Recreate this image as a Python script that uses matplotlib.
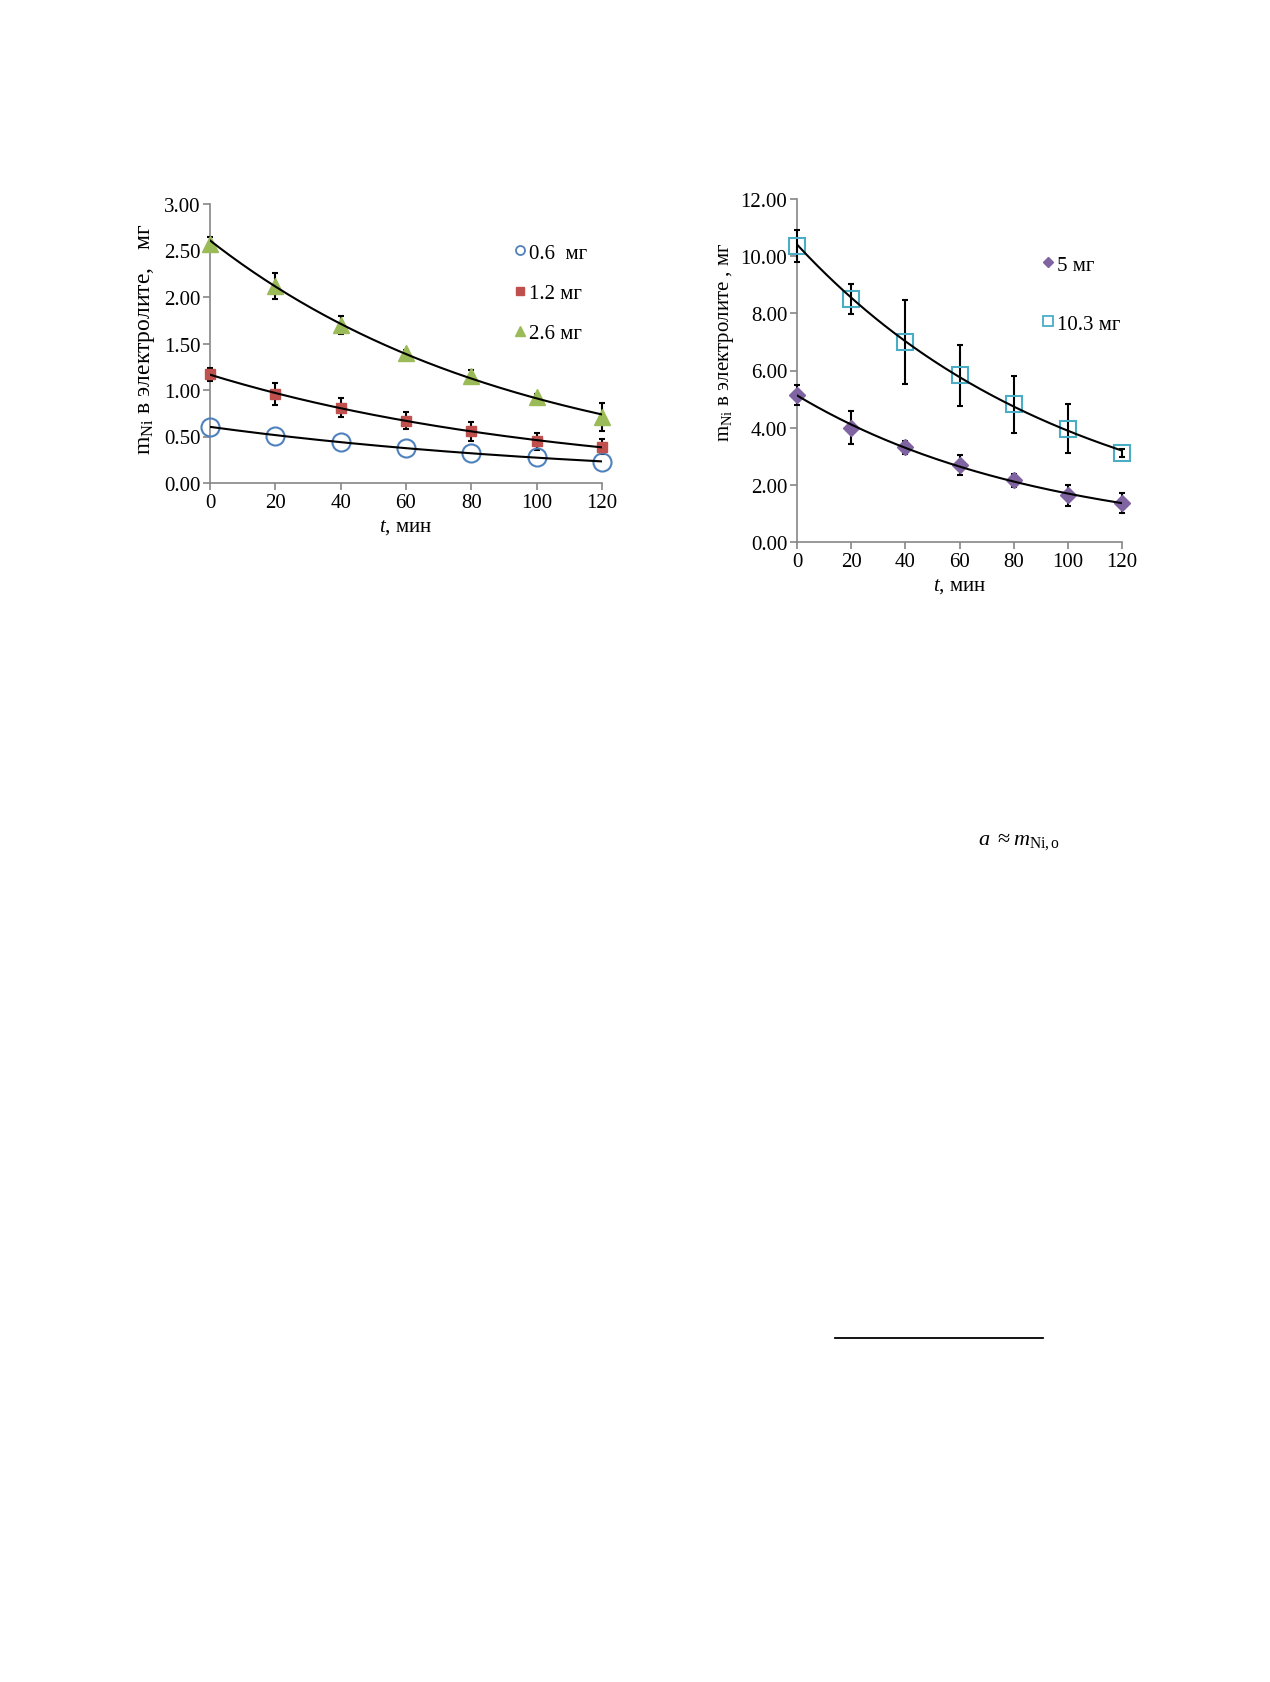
import numpy as np
import matplotlib
matplotlib.use("Agg")
import matplotlib.pyplot as plt
from matplotlib.lines import Line2D

plt.rcParams['font.family'] = ['Liberation Serif', 'DejaVu Serif']
plt.rcParams['mathtext.fontset'] = 'custom'
plt.rcParams['mathtext.rm'] = 'Liberation Serif'
plt.rcParams['mathtext.it'] = 'Liberation Serif:italic'

# ---- data (left chart) ----
t = [0, 20, 40, 60, 80, 100, 120]
m06 = [0.60, 0.51, 0.44, 0.38, 0.32, 0.28, 0.225]
m12 = [1.17, 0.96, 0.81, 0.67, 0.555, 0.45, 0.39]
m12_err = [0.07, 0.12, 0.10, 0.09, 0.10, 0.09, 0.08]
m26 = [2.57, 2.12, 1.70, 1.40, 1.15, 0.93, 0.71]
m26_err = [0.08, 0.14, 0.10, 0.03, 0.07, 0.03, 0.15]

# ---- data (right chart) ----
m5 = [5.15, 4.00, 3.32, 2.71, 2.16, 1.63, 1.37]
m5_err = [0.35, 0.57, 0.23, 0.35, 0.23, 0.38, 0.35]
m103 = [10.35, 8.50, 6.99, 5.83, 4.82, 3.96, 3.11]
m103_err = [0.57, 0.54, 1.46, 1.06, 0.99, 0.86, 0.15]

left_labels = ['0.6  мг', '1.2 мг', '2.6 мг']
right_labels = ['5 мг', '10.3 мг']

C_BLUE = '#4F81BD'
C_RED = '#C0504D'
C_GREEN = '#9BBB59'
C_PURPLE = '#8064A2'
C_TEAL = '#4BACC6'
SPINE = '#868686'

W, H = 1270, 1683
fig = plt.figure(figsize=(W / 100, H / 100), dpi=100)


def axpos(x0, y0, x1, y1):
    return [x0 / W, 1 - y1 / H, (x1 - x0) / W, (y1 - y0) / H]


def trend(ax, x, y):
    x = np.asarray(x, float)
    y = np.asarray(y, float)
    b, a = np.polyfit(x, np.log(y), 1)
    xx = np.linspace(x.min(), x.max(), 200)
    ax.plot(xx, np.exp(a) * np.exp(b * xx), color='black', lw=1.5, zorder=7)


FS = 15


def style(ax, ymax, ystep):
    ax.set_xlim(0, 120)
    ax.set_ylim(0, ymax)
    ax.set_xticks(t)
    ax.set_yticks(np.arange(0, ymax + 1e-9, ystep))
    ax.yaxis.set_major_formatter(matplotlib.ticker.FormatStrFormatter('%.2f'))
    for s in ['top', 'right']:
        ax.spines[s].set_visible(False)
    for s in ['left', 'bottom']:
        ax.spines[s].set_color(SPINE)
        ax.spines[s].set_linewidth(1.2)
    ax.tick_params(direction='out', length=5, width=1.2, color=SPINE,
                   labelsize=FS, pad=2)


EB = dict(fmt='none', ecolor='black', elinewidth=1.5, capsize=2.5,
          capthick=1.5, zorder=3, clip_on=False)

# ---------------- left ----------------
ax1 = fig.add_axes(axpos(210, 205, 602, 484))
style(ax1, 3.0, 0.5)
trend(ax1, t, m06)
trend(ax1, t, m12)
trend(ax1, t, m26)
ax1.errorbar(t, m26, yerr=m26_err, **EB)
ax1.errorbar(t, m12, yerr=m12_err, **EB)
ax1.plot(t, m06, 'o', ms=13, mfc='none', mec=C_BLUE, mew=1.5,
         linestyle='none', zorder=5, clip_on=False)
ax1.plot(t, m12, 's', ms=7.5, color=C_RED, linestyle='none', zorder=5,
         clip_on=False)
ax1.plot(t, m26, '^', ms=12, color=C_GREEN, linestyle='none', zorder=5,
         clip_on=False)
ax1.set_xlabel('$\\mathit{t}$, мин', fontsize=FS, labelpad=4)
ax1.set_ylabel('m$_{\\mathrm{Ni}}$ в электролите,   мг', fontsize=17, labelpad=5)
ax1.yaxis.label.set_y(0.52)
hl1 = [Line2D([], [], marker='o', ms=6.5, mfc='none', mec=C_BLUE, mew=1.3, ls='none'),
       Line2D([], [], marker='s', ms=5.5, color=C_RED, ls='none'),
       Line2D([], [], marker='^', ms=7, color=C_GREEN, ls='none')]
fig.legend(hl1, left_labels, loc='upper left',
           bbox_to_anchor=(514 / W, 1 - 244 / H), frameon=False, fontsize=FS,
           handlelength=0.6, handletextpad=0.1, labelspacing=1.0,
           borderpad=0, borderaxespad=0)

# ---------------- right ----------------
ax2 = fig.add_axes(axpos(797, 200, 1122, 543))
style(ax2, 12.0, 2.0)
trend(ax2, t, m5)
trend(ax2, t, m103)
ax2.errorbar(t, m103, yerr=m103_err, **EB)
ax2.errorbar(t, m5, yerr=m5_err, **EB)
ax2.plot(t, m5, 'D', ms=8.5, color=C_PURPLE, linestyle='none', zorder=5,
         clip_on=False)
ax2.plot(t, m103, 's', ms=12, mfc='none', mec=C_TEAL, mew=1.5,
         linestyle='none', zorder=5, clip_on=False)
ax2.set_xlabel('$\\mathit{t}$, мин', fontsize=FS, labelpad=4)
ax2.set_ylabel('m$_{\\mathrm{Ni}}$ в электролите , мг', fontsize=FS, labelpad=3)
ax2.yaxis.label.set_y(0.585)
hl2 = [Line2D([], [], marker='D', ms=5.5, color=C_PURPLE, ls='none'),
       Line2D([], [], marker='s', ms=7, mfc='none', mec=C_TEAL, mew=1.3, ls='none')]
fig.legend(hl2, right_labels, loc='upper left',
           bbox_to_anchor=(1042 / W, 1 - 256 / H), frameon=False, fontsize=FS,
           handlelength=0.6, handletextpad=0.1, labelspacing=1.9,
           borderpad=0, borderaxespad=0)

# ---------------- extra text / line ----------------
fig.text(978 / W, 1 - 845 / H, '$\\mathit{a}\\ \\approx \\mathit{m}_{\\mathrm{Ni,o}}$',
         fontsize=16, ha='left', va='baseline')
fig.add_artist(Line2D([835 / W, 1043 / W], [1 - 1339 / H, 1 - 1339 / H],
                      color='black', lw=1.3, transform=fig.transFigure))

fig.savefig('out.png', dpi=100, facecolor='white')
